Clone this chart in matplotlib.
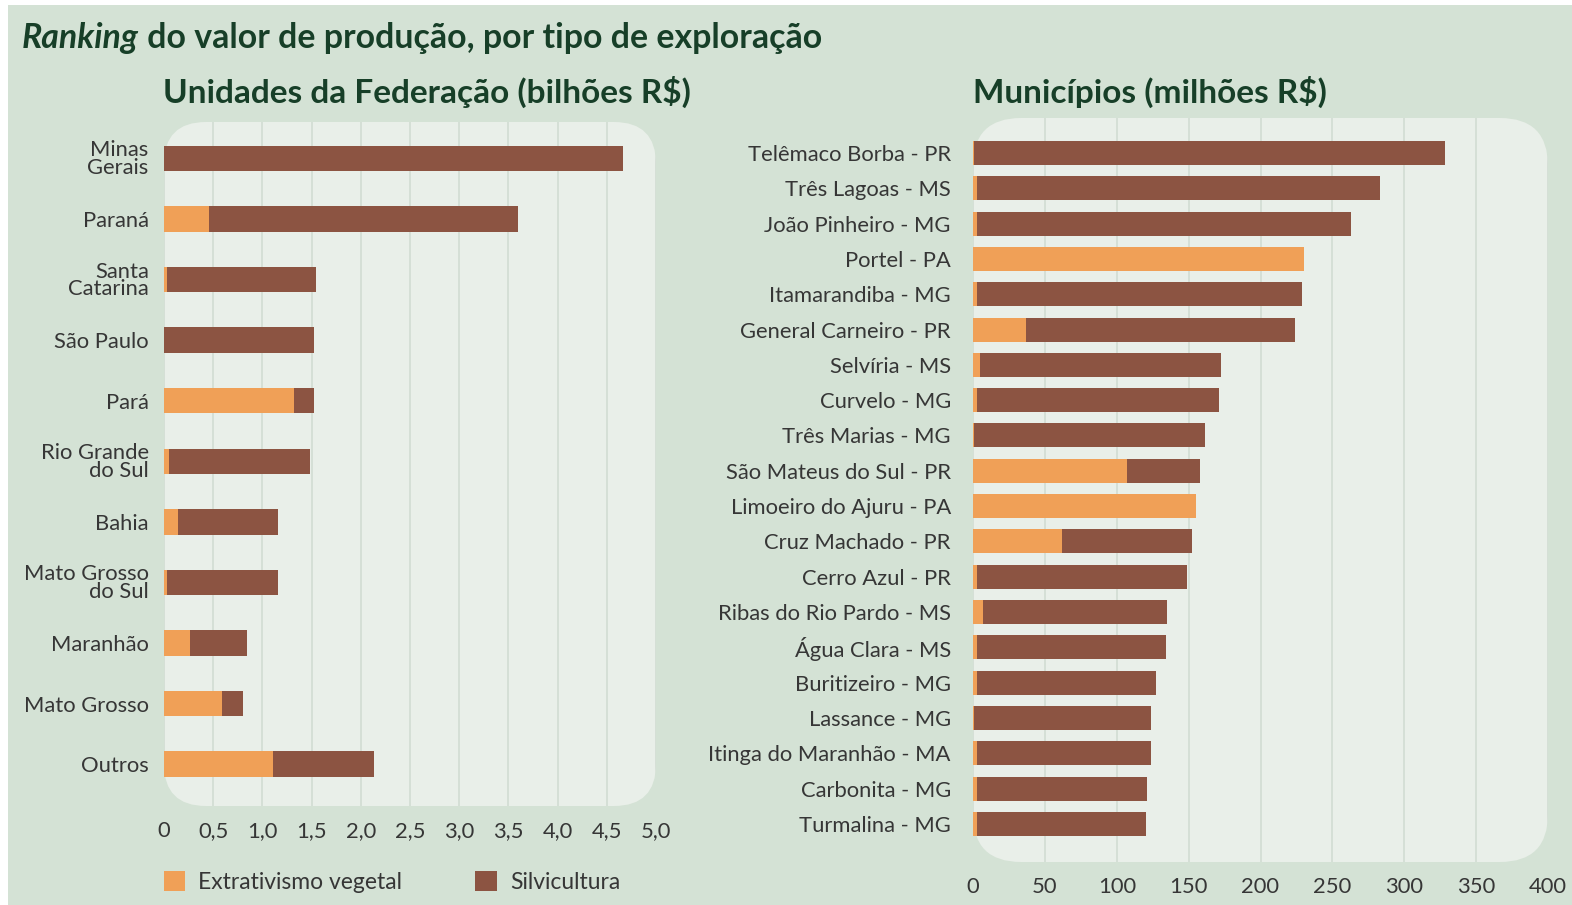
import numpy as np
import matplotlib
matplotlib.use("Agg")
import matplotlib.pyplot as plt
from matplotlib.patches import FancyBboxPatch, Rectangle

# --- data ---
uf_names = ["Minas\nGerais", "Paraná", "Santa\nCatarina", "São Paulo", "Pará",
            "Rio Grande\ndo Sul", "Bahia", "Mato Grosso\ndo Sul", "Maranhão",
            "Mato Grosso", "Outros"]
uf_extrat = [0.0, 0.46, 0.03, 0.0, 1.32, 0.05, 0.14, 0.03, 0.26, 0.59, 1.11]
uf_silvi = [4.66, 3.14, 1.51, 1.52, 0.20, 1.43, 1.02, 1.13, 0.58, 0.21, 1.02]
uf_ticks = [0, 0.5, 1.0, 1.5, 2.0, 2.5, 3.0, 3.5, 4.0, 4.5, 5.0]

mun_names = ["Telêmaco Borba - PR", "Três Lagoas - MS", "João Pinheiro - MG",
             "Portel - PA", "Itamarandiba - MG", "General Carneiro - PR",
             "Selvíria - MS", "Curvelo - MG", "Três Marias - MG",
             "São Mateus do Sul - PR", "Limoeiro do Ajuru - PA", "Cruz Machado - PR",
             "Cerro Azul - PR", "Ribas do Rio Pardo - MS", "Água Clara - MS",
             "Buritizeiro - MG", "Lassance - MG", "Itinga do Maranhão - MA",
             "Carbonita - MG", "Turmalina - MG"]
mun_extrat = [1, 3, 3, 230, 3, 37, 4.6, 3, 0.5, 107, 155, 62, 3, 7.3, 3, 3, 1, 3, 3, 3]
mun_silvi = [327, 280, 260, 0, 226, 187, 168, 168, 161, 51, 0, 90, 146, 128, 131, 124, 123, 121, 118, 117]
mun_ticks = [0, 50, 100, 150, 200, 250, 300, 350, 400]

W, H = 1572, 905
BG = "#d4e2d5"
PANEL = "#e9efe9"
GRID = "#d2dcd3"
ORANGE = "#f0a057"
BROWN = "#8c5442"
GREEN = "#173f28"
TXT = "#363636"
FONT = "Lato"

plt.rcParams["font.family"] = [FONT, "DejaVu Sans"]

fig = plt.figure(figsize=(W / 100, H / 100), dpi=100)
fig.patch.set_facecolor("white")
fig.patches.append(Rectangle((8 / W, 0), 1 - 8 / W, 1 - 5 / H, transform=fig.transFigure,
                             facecolor=BG, edgecolor="none", zorder=-3))


def rect(l, t, r, b):
    return [l / W, 1 - b / H, (r - l) / W, (b - t) / H]


def panel_patch(l, t, r, b, rad):
    p = FancyBboxPatch((l / W, 1 - b / H), (r - l) / W, (b - t) / H,
                       boxstyle=f"round,pad=0,rounding_size={rad / W}",
                       mutation_aspect=W / H, transform=fig.transFigure,
                       facecolor=PANEL, edgecolor="none", zorder=-2)
    fig.patches.append(p)
    return p


def draw(ax, patch, names, ext, silv, ticks, fmt, pad, bh):
    y = np.arange(len(names))
    ax.set_facecolor("none")
    for s in ax.spines.values():
        s.set_visible(False)
    h1 = ax.barh(y, ext, height=bh, color=ORANGE, label="Extrativismo vegetal", zorder=3)
    h2 = ax.barh(y, silv, left=ext, height=bh, color=BROWN, label="Silvicultura", zorder=3)
    ax.set_yticks(y, names)
    ax.set_xticks(ticks, [fmt(t) for t in ticks])
    ax.tick_params(length=0, colors=TXT, labelsize=15.8)
    ax.tick_params(axis="y", pad=pad)
    ax.tick_params(axis="x", pad=11)
    for lab in ax.get_yticklabels():
        lab.set_linespacing(0.85)
    ax.grid(axis="x", color=GRID, linewidth=1.2, zorder=0)
    for gl in ax.get_xgridlines():
        gl.set_clip_path(patch)
    return h1, h2


# left panel: Unidades da Federação, right panel: Municípios
axL = fig.add_axes(rect(164, 122, 656, 806))
axR = fig.add_axes(rect(973, 118, 1548, 862))
pL = panel_patch(164, 122, 656, 806, 42)
pR = panel_patch(973, 118, 1548, 862, 48)

h1, h2 = draw(axL, pL, uf_names, uf_extrat, uf_silvi, uf_ticks,
              lambda t: "0" if t == 0 else f"{t:.1f}".replace(".", ","), 11, 0.42)
axL.set_xlim(0, 5)
axL.set_ylim(len(uf_names) - 1 + 0.69, -0.6)

draw(axR, pR, mun_names, mun_extrat, mun_silvi, mun_ticks, lambda t: f"{t:d}", 16, 0.68)
axR.set_xlim(0, 400)
axR.set_ylim(len(mun_names) - 1 + 1.08, -0.99)

# titles
r = fig.canvas.get_renderer()
t1 = fig.text(22 / W, 1 - 38 / H, "Ranking", fontsize=24.4, fontweight="bold", style="italic",
              color=GREEN, va="center")
bb = t1.get_window_extent(r)
fig.text(bb.x1 / W, 1 - 38 / H, " do valor de produção, por tipo de exploração", fontsize=24.4,
         fontweight="bold", color=GREEN, va="center")
fig.text(163 / W, 1 - 92 / H, "Unidades da Federação (bilhões R$)", fontsize=24,
         fontweight="bold", color=GREEN, va="center")
fig.text(973 / W, 1 - 92 / H, "Municípios (milhões R$)", fontsize=24,
         fontweight="bold", color=GREEN, va="center")

fig.legend(handles=[h1, h2], loc="center left", bbox_to_anchor=(143 / W, 1 - 882 / H),
           ncol=2, frameon=False, fontsize=16.5, handlelength=0.95, handleheight=0.95,
           columnspacing=3.2, handletextpad=0.55, labelcolor=TXT)

fig.savefig("out.png", dpi=100, facecolor=fig.get_facecolor())
